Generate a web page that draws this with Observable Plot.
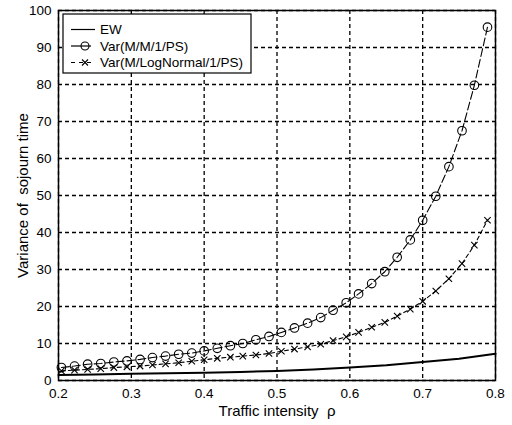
<!DOCTYPE html>
<html>
<head>
<meta charset="utf-8">
<script src="https://cdn.jsdelivr.net/npm/d3@7"></script>
<script src="https://cdn.jsdelivr.net/npm/@observablehq/plot@0.6"></script>
<style>
  html, body { margin: 0; padding: 0; background: white; }
  #chart { width: 512px; height: 425px; }
</style>
</head>
<body>
<div id="chart"></div>
<script>
// Traffic intensity (x) for the two variance series
const rho = [0.204, 0.222, 0.240, 0.258, 0.276, 0.294, 0.312, 0.329, 0.347, 0.365,
             0.383, 0.400, 0.418, 0.436, 0.453, 0.471, 0.489, 0.506, 0.524, 0.542,
             0.560, 0.577, 0.595, 0.612, 0.630, 0.648, 0.665, 0.683, 0.700, 0.718,
             0.736, 0.754, 0.771, 0.789];
// Var(M/M/1/PS)
const varMM1 = [3.5, 3.9, 4.4, 4.6, 5.0, 5.3, 5.7, 6.2, 6.6, 7.1,
                7.4, 8.0, 8.7, 9.4, 10.0, 11.0, 11.9, 13.0, 14.2, 15.5,
                17.0, 19.0, 21.0, 23.4, 26.2, 29.4, 33.3, 38.0, 43.3, 49.8,
                57.8, 67.5, 79.8, 95.5];
// Var(M/LogNormal/1/PS)
const varLogN = [2.6, 2.8, 3.0, 3.2, 3.5, 3.7, 3.9, 4.2, 4.5, 4.8,
                 5.2, 5.6, 6.0, 6.3, 6.6, 6.9, 7.3, 7.9, 8.5, 9.1,
                 9.8, 10.8, 11.8, 13.0, 14.4, 15.7, 17.4, 19.3, 21.4, 24.2,
                 27.5, 31.6, 36.6, 43.3];
// EW (solid line)
const ewRho  = [0.20, 0.25, 0.30, 0.35, 0.40, 0.45, 0.50, 0.55, 0.60, 0.65, 0.70, 0.75, 0.80];
const ewVals = [1.5, 1.6, 1.8, 1.95, 2.1, 2.3, 2.6, 3.0, 3.5, 4.1, 5.0, 5.9, 7.2];

const xTicks = [0.2, 0.3, 0.4, 0.5, 0.6, 0.7, 0.8];
const yTicks = [0, 10, 20, 30, 40, 50, 60, 70, 80, 90, 100];

const legendLabels = ["EW", "Var(M/M/1/PS)", "Var(M/LogNormal/1/PS)"];

const mmData = rho.map((r, i) => ({rho: r, v: varMM1[i]}));
const lnData = rho.map((r, i) => ({rho: r, v: varLogN[i]}));
const ewData = ewRho.map((r, i) => ({rho: r, v: ewVals[i]}));

const font = "'Liberation Sans', Arial, Helvetica, sans-serif";

const chart = Plot.plot({
  width: 512,
  height: 425,
  marginLeft: 58,
  marginRight: 17,
  marginTop: 10,
  marginBottom: 45,
  style: {fontFamily: font, fontSize: "13.5px", background: "white", color: "black"},
  x: {domain: [0.2, 0.8], label: null},
  y: {domain: [0, 100], label: null},
  marks: [
    Plot.gridX(xTicks, {stroke: "black", strokeOpacity: 1, strokeWidth: 1.3, strokeDasharray: "4,3"}),
    Plot.gridY(yTicks, {stroke: "black", strokeOpacity: 1, strokeWidth: 1.3, strokeDasharray: "4,3"}),
    Plot.axisX({ticks: xTicks, tickSize: 0, tickPadding: 8, tickFormat: d => d.toFixed(1),
                label: "Traffic intensity  ρ", labelAnchor: "center", labelArrow: "none", labelOffset: 35,
                fontSize: 13.5}),
    Plot.axisY({ticks: yTicks, tickSize: 0, tickPadding: 7, tickFormat: d => String(d),
                label: "Variance of  sojourn time", labelAnchor: "center", labelArrow: "none", labelOffset: 41,
                fontSize: 13.5}),
    Plot.line(ewData, {x: "rho", y: "v", stroke: "black", strokeWidth: 2}),
    Plot.line(mmData, {x: "rho", y: "v", stroke: "black", strokeWidth: 1.1, strokeDasharray: "8,3"}),
    Plot.dot(mmData, {x: "rho", y: "v", r: 4.3, stroke: "black", strokeWidth: 1.1, fill: "none"}),
    Plot.line(lnData, {x: "rho", y: "v", stroke: "black", strokeWidth: 1.1, strokeDasharray: "4,3"}),
    Plot.dot(lnData, {x: "rho", y: "v", r: 3, symbol: "times", stroke: "black", strokeWidth: 1.1}),
    Plot.frame({stroke: "black", strokeWidth: 1.5})
  ]
});

document.getElementById("chart").appendChild(chart);

// Slightly larger axis titles, as in the reference
d3.select(chart).selectAll('g[aria-label="x-axis label"], g[aria-label="y-axis label"]')
  .attr("font-size", 15);

// Legend box (top-left, inside plot)
const svg = d3.select(chart);
const lg = svg.append("g").attr("transform", "translate(63,14)")
  .attr("font-family", font).attr("font-size", 13.5).attr("text-anchor", "start");
lg.append("rect").attr("width", 188).attr("height", 59)
  .attr("fill", "white").attr("stroke", "black").attr("stroke-width", 1.2);
const rows = [15.5, 32, 48.5];
// EW
lg.append("line").attr("x1", 8).attr("x2", 32).attr("y1", rows[0]).attr("y2", rows[0])
  .attr("stroke", "black").attr("stroke-width", 1.2);
// M/M/1/PS
lg.append("line").attr("x1", 8).attr("x2", 28).attr("y1", rows[1]).attr("y2", rows[1])
  .attr("stroke", "black").attr("stroke-width", 1.2);
lg.append("circle").attr("cx", 22).attr("cy", rows[1]).attr("r", 4)
  .attr("fill", "none").attr("stroke", "black").attr("stroke-width", 1.1);
// LogNormal
lg.append("line").attr("x1", 8).attr("x2", 28).attr("y1", rows[2]).attr("y2", rows[2])
  .attr("stroke", "black").attr("stroke-width", 1.2).attr("stroke-dasharray", "4,4");
lg.append("path").attr("d", `M19,${rows[2]-3}L25,${rows[2]+3}M19,${rows[2]+3}L25,${rows[2]-3}`)
  .attr("stroke", "black").attr("stroke-width", 1.1);
legendLabels.forEach((t, i) => {
  lg.append("text").attr("x", 37).attr("y", rows[i]).attr("dy", "0.35em")
    .attr("fill", "black").attr("text-anchor", "start").text(t);
});
</script>
</body>
</html>
